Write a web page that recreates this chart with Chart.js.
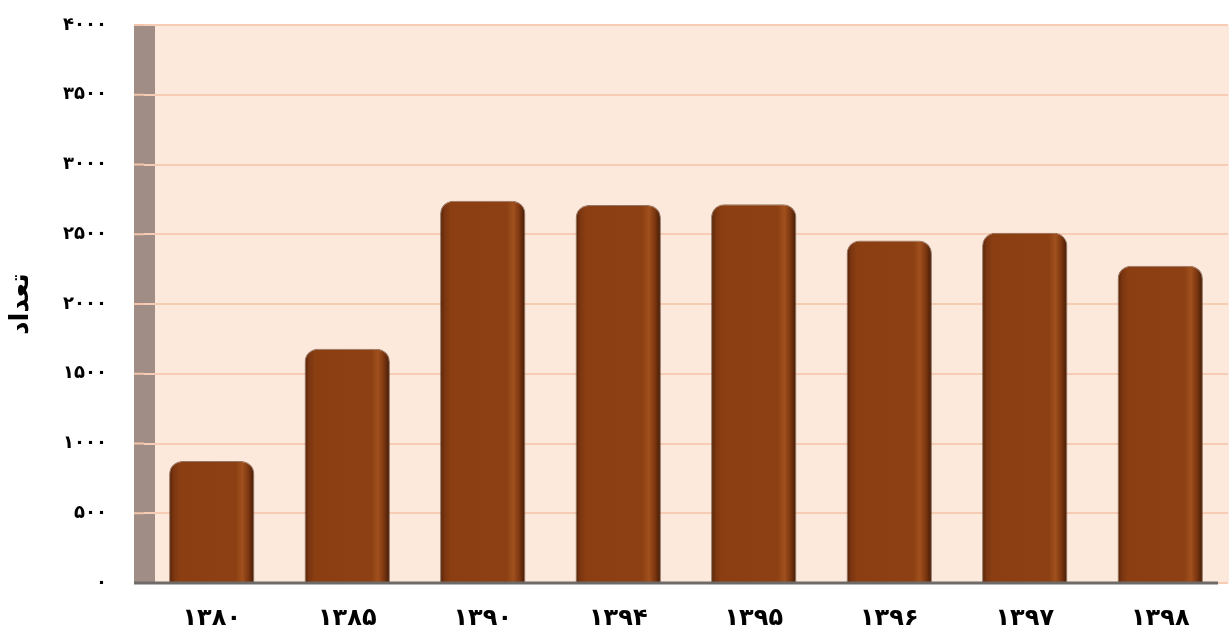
<!DOCTYPE html>
<html>
<head>
<meta charset="utf-8">
<script src="https://cdn.jsdelivr.net/npm/chart.js@4"></script>
<style>
  html, body { margin: 0; padding: 0; background: #fff; overflow: hidden; }
  canvas { display: block; }
</style>
</head>
<body>
<canvas id="bar_chart" width="1229" height="635"></canvas>
<script>
// chart data
var years = ['۱۳۸۰', '۱۳۸۵', '۱۳۹۰', '۱۳۹۴', '۱۳۹۵', '۱۳۹۶', '۱۳۹۷', '۱۳۹۸'];
var counts = [875, 1680, 2740, 2710, 2715, 2455, 2510, 2275];
var yTitle = 'تعداد';

var fontFamily = '"DejaVu Sans", sans-serif';

function toPersian(n) {
    var digits = '۰۱۲۳۴۵۶۷۸۹';
    return String(n).replace(/[0-9]/g, function (d) {
        return digits[d];
    });
}

// horizontal shading for each bar (dark edges, light strip near the right)
function barGradient(context) {
    var chart = context.chart;
    var xScale = chart.scales.x;
    if (!xScale || !chart.chartArea) {
        return '#8B3F12';
    }
    var cx = xScale.getPixelForValue(context.dataIndex);
    var half = (xScale.width / years.length) * 0.63 / 2;
    var g = chart.ctx.createLinearGradient(cx - half, 0, cx + half, 0);
    g.addColorStop(0, '#4f2107');
    g.addColorStop(0.05, '#7a3510');
    g.addColorStop(0.12, '#8a3e12');
    g.addColorStop(0.78, '#8c4013');
    g.addColorStop(0.86, '#a0501d');
    g.addColorStop(0.93, '#7c3610');
    g.addColorStop(1, '#3f1a05');
    return g;
}

var backdrop = {
    id: 'backdrop',
    beforeDraw: function (chart) {
        var ctx = chart.ctx;
        var a = chart.chartArea;
        var y = chart.scales.y;
        ctx.save();
        ctx.fillStyle = '#fde9dc';
        ctx.fillRect(a.left - 10, a.top, chart.width - (a.left - 10), a.bottom - a.top);
        // side wall
        ctx.fillStyle = '#a08e86';
        ctx.fillRect(a.left - 10, a.top, 21, a.bottom - a.top);
        ctx.strokeStyle = '#f3c6ac';
        ctx.lineWidth = 2;
        y.ticks.forEach(function (t) {
            var py = y.getPixelForValue(t.value);
            ctx.beginPath();
            ctx.moveTo(a.left - 10, py);
            ctx.lineTo(a.left, py);
            ctx.stroke();
        });
        ctx.restore();
    },
    afterDatasetsDraw: function (chart) {
        var ctx = chart.ctx;
        var a = chart.chartArea;
        ctx.save();
        ctx.strokeStyle = '#6e6a68';
        ctx.lineWidth = 3;
        ctx.beginPath();
        ctx.moveTo(a.left - 10, a.bottom);
        ctx.lineTo(a.right - 10, a.bottom);
        ctx.stroke();
        ctx.restore();
    }
};

var data = {
    labels: years,
    datasets: [{
            label: yTitle,
            data: counts,
            backgroundColor: barGradient,
            borderColor: 'rgba(60, 25, 5, 0.55)',
            borderWidth: 1,
            borderRadius: {topLeft: 13, topRight: 13, bottomLeft: 0, bottomRight: 0},
            borderSkipped: 'bottom',
            barPercentage: 0.63,
            categoryPercentage: 1
        }]
};

var config = {
    type: 'bar',
    data: data,
    plugins: [backdrop],
    options: {
        responsive: false,
        animation: false,
        devicePixelRatio: 1,
        layout: {
            padding: {top: 25, right: 1, bottom: 0, left: 6}
        },
        plugins: {
            legend: {display: false},
            tooltip: {enabled: false}
        },
        scales: {
            x: {
                afterFit: function (scale) {
                    scale.height = 52;
                },
                grid: {display: false, drawTicks: false},
                border: {display: false},
                ticks: {
                    color: '#000',
                    padding: 21,
                    maxRotation: 0,
                    font: {family: fontFamily, size: 24, weight: 'bold'}
                }
            },
            y: {
                min: 0,
                max: 4000,
                afterFit: function (scale) {
                    scale.width = 138;
                    // keep the tick padding from pushing the plot down
                    scale.paddingTop = 10;
                    scale.paddingBottom = 10;
                },
                grid: {color: '#f6cdb4', lineWidth: 2, drawTicks: false},
                border: {display: false},
                ticks: {
                    stepSize: 500,
                    color: '#000',
                    padding: 37,
                    font: {family: fontFamily, size: 18, weight: 'bold'},
                    callback: function (v) {
                        return toPersian(v);
                    }
                },
                title: {
                    display: true,
                    text: yTitle,
                    color: '#000',
                    padding: {top: 0, bottom: 0},
                    font: {family: fontFamily, size: 26, weight: 'bold'}
                }
            }
        }
    }
};

var barChart = new Chart(
        document.getElementById('bar_chart'),
        config
        );
</script>
</body>
</html>
